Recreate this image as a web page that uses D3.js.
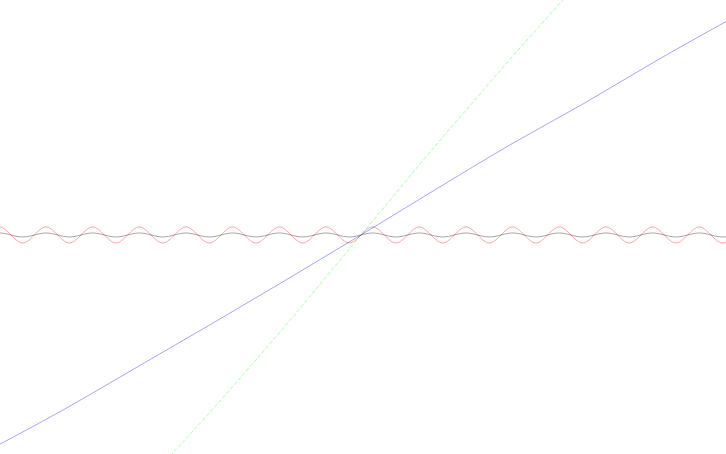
<!DOCTYPE html>
<html>
<head>
<meta charset="utf-8">
<script src="https://cdn.jsdelivr.net/npm/d3@7"></script>
<style>
  html, body { margin: 0; padding: 0; background: #fff; }
  svg { display: block; }
</style>
</head>
<body>
<svg id="chart" width="726" height="454"></svg>
<script>
// Sample positions (radians) for the two waves: zeros and peaks
const waveX = [
  -50.27, -48.69, -47.12, -45.55, -43.98, -42.41, -40.84, -39.27,
  -37.70, -36.13, -34.56, -32.99, -31.42, -29.85, -28.27, -26.70,
  -25.13, -23.56, -21.99, -20.42, -18.85, -17.28, -15.71, -14.14,
  -12.57, -11.00, -9.42, -7.85, -6.28, -4.71, -3.14, -1.57,
  0,
  1.57, 3.14, 4.71, 6.28, 7.85, 9.42, 11.00, 12.57,
  14.14, 15.71, 17.28, 18.85, 20.42, 21.99, 23.56, 25.13,
  26.70, 28.27, 29.85, 31.42, 32.99, 34.56, 36.13, 37.70,
  39.27, 40.84, 42.41, 43.98, 45.55, 47.12, 48.69, 50.27
];
// Red wave (large amplitude)
const redWave = [
  0, 1.08, 0, -1.08, 0, 1.08, 0, -1.08,
  0, 1.08, 0, -1.08, 0, 1.08, 0, -1.08,
  0, 1.08, 0, -1.08, 0, 1.08, 0, -1.08,
  0, 1.08, 0, -1.08, 0, 1.08, 0, -1.08,
  0,
  1.08, 0, -1.08, 0, 1.08, 0, -1.08, 0,
  1.08, 0, -1.08, 0, 1.08, 0, -1.08, 0,
  1.08, 0, -1.08, 0, 1.08, 0, -1.08, 0,
  1.08, 0, -1.08, 0, 1.08, 0, -1.08, 0
];
// Black wave (small amplitude)
const blackWave = [
  0, 0.27, 0, -0.27, 0, 0.27, 0, -0.27,
  0, 0.27, 0, -0.27, 0, 0.27, 0, -0.27,
  0, 0.27, 0, -0.27, 0, 0.27, 0, -0.27,
  0, 0.27, 0, -0.27, 0, 0.27, 0, -0.27,
  0,
  0.27, 0, -0.27, 0, 0.27, 0, -0.27, 0,
  0.27, 0, -0.27, 0, 0.27, 0, -0.27, 0,
  0.27, 0, -0.27, 0, 0.27, 0, -0.27, 0,
  0.27, 0, -0.27, 0, 0.27, 0, -0.27, 0
];
// Blue curve
const blueX = [-50, -40, -30, -20, -10, 0, 10, 20, 30, 40, 50];
const blueY = [-28.9, -23.5, -17.7, -11.9, -6.0, 0, 6.1, 12.1, 17.7, 23.6, 29.2];
// Green curve
const greenX = [-30, -25, -20, -15, -10, -5, 0, 5, 10, 15, 20, 25, 30];
const greenY = [-34.6, -29.0, -23.5, -17.8, -12.0, -6.0, 0, 6.0, 12.0, 17.8, 23.6, 29.2, 34.8];

const W = 726, H = 454;
const svg = d3.select("#chart");

const x = d3.scaleLinear().domain([-48.61, 49.15]).range([0, W]);
const y = d3.scaleLinear().domain([-29.49, 31.64]).range([H, 0]);

const clip = svg.append("defs").append("clipPath").attr("id", "clip")
  .append("rect").attr("x", 0).attr("y", 0).attr("width", W).attr("height", H);

const g = svg.append("g").attr("clip-path", "url(#clip)");

const line = d3.line().x(d => x(d[0])).y(d => y(d[1]));

const series = [
  { xs: blueX, ys: blueY, color: "#0000ff", dash: null, curve: d3.curveMonotoneX },
  { xs: greenX, ys: greenY, color: "#00ff00", dash: "4,2", curve: d3.curveMonotoneX },
  { xs: waveX, ys: redWave, color: "#ff0000", dash: null, curve: d3.curveNatural },
  { xs: waveX, ys: blackWave, color: "#000000", dash: null, curve: d3.curveNatural }
];

series.forEach(s => {
  const pts = d3.zip(s.xs, s.ys);
  g.append("path")
    .datum(pts)
    .attr("fill", "none")
    .attr("stroke", s.color)
    .attr("stroke-opacity", 0.35)
    .attr("stroke-width", 1)
    .attr("stroke-dasharray", s.dash)
    .attr("d", line.curve(s.curve));
});
</script>
</body>
</html>
